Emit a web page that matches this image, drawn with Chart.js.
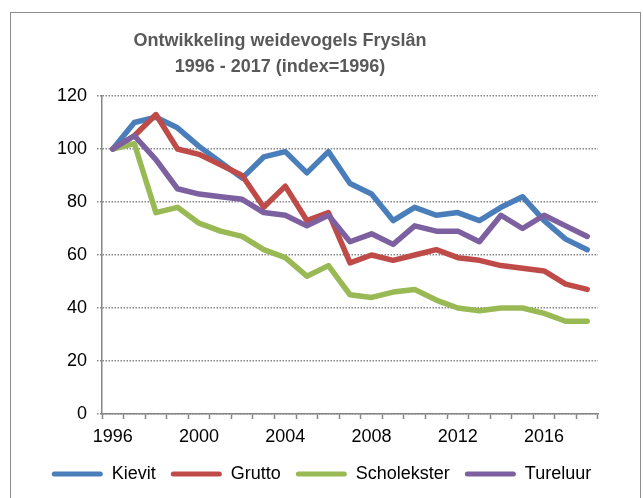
<!DOCTYPE html>
<html>

<head>
    <meta charset="utf-8">
    <title>Ontwikkeling weidevogels Fryslân</title>
    <style>
        body {
            margin: 0;
            background-color: white;
        }

        .chart-container {
            width: 643px;
            height: 498px;
            position: relative;
        }
    </style>
</head>

<body>
    <div class="chart-container"><canvas id="birdChart"></canvas></div>

    <script src="https://cdn.jsdelivr.net/npm/chart.js"></script>

    <script>
        const years = ['1996', '1997', '1998', '1999', '2000', '2001', '2002', '2003', '2004', '2005', '2006', '2007',
            '2008', '2009', '2010', '2011', '2012', '2013', '2014', '2015', '2016', '2017', '2018'];
        const kievit = [100, 110, 112, 108, 101, 95, 89, 97, 99, 91, 99, 87, 83, 73, 78, 75, 76, 73, 78, 82, 73, 66, 62];
        const grutto = [100, 105, 113, 100, 98, 94, 90, 78, 86, 73, 76, 57, 60, 58, 60, 62, 59, 58, 56, 55, 54, 49, 47];
        const scholekster = [100, 102, 76, 78, 72, 69, 67, 62, 59, 52, 56, 45, 44, 46, 47, 43, 40, 39, 40, 40, 38, 35, 35];
        const tureluur = [100, 105, 96, 85, 83, 82, 81, 76, 75, 71, 75, 65, 68, 64, 71, 69, 69, 65, 75, 70, 75, 71, 67];
        const yTicks = [0, 20, 40, 60, 80, 100, 120];
        const titleLines = ['Ontwikkeling weidevogels Fryslân', '1996 - 2017 (index=1996)'];

        const axisGrey = '#868686';
        const font = { family: '"Liberation Sans", Arial, sans-serif', size: 18 };

        function series(label, data, color, order) {
            return {
                label: label,
                data: data,
                borderColor: color,
                backgroundColor: color,
                borderWidth: 5.5,
                borderJoinStyle: 'round',
                borderCapStyle: 'round',
                pointRadius: 0,
                tension: 0,
                fill: false,
                order: order
            };
        }

        // outer frame + title, drawn like the excel chart
        const framePlugin = {
            id: 'frame',
            beforeDraw(chart) {
                const ctx = chart.ctx;
                ctx.save();
                ctx.strokeStyle = '#8c8c8c';
                ctx.lineWidth = 1;
                ctx.strokeRect(10.5, 12.5, 630, 500);
                ctx.restore();
            },
            afterDraw(chart) {
                const ctx = chart.ctx;
                ctx.save();
                ctx.fillStyle = '#595959';
                ctx.font = 'bold 18px "Liberation Sans", Arial, sans-serif';
                ctx.textAlign = 'center';
                ctx.textBaseline = 'middle';
                ctx.fillText(titleLines[0], 280, 41);
                ctx.fillText(titleLines[1], 280, 67);
                ctx.restore();
            }
        };

        new Chart(document.getElementById('birdChart'), {
            type: 'line',
            data: {
                labels: years,
                datasets: [
                    series('Kievit', kievit, '#4a7ebb', 4),
                    series('Grutto', grutto, '#be4b48', 3),
                    series('Scholekster', scholekster, '#98b954', 2),
                    series('Tureluur', tureluur, '#7d60a0', 1)
                ]
            },
            options: {
                responsive: true,
                maintainAspectRatio: false,
                animation: false,
                layout: {
                    padding: { left: 6, right: 6, top: 96, bottom: 5 }
                },
                scales: {
                    x: {
                        offset: true,
                        grid: {
                            offset: true,
                            drawOnChartArea: false,
                            drawTicks: true,
                            tickLength: 5,
                            tickColor: axisGrey,
                            tickWidth: 1.5
                        },
                        border: { color: axisGrey, width: 1.5 },
                        ticks: {
                            autoSkip: false,
                            maxRotation: 0,
                            padding: 7,
                            color: '#000',
                            font: font,
                            callback: function (value, index) {
                                return index % 4 === 0 ? years[index] : '';
                            }
                        },
                        afterFit(scale) {
                            scale.height = 36;
                        }
                    },
                    y: {
                        min: 0,
                        max: 120,
                        afterBuildTicks(scale) {
                            scale.ticks = yTicks.map(v => ({ value: v }));
                        },
                        grid: {
                            color: axisGrey,
                            lineWidth: 1.5,
                            tickLength: 5,
                            tickColor: axisGrey,
                            tickWidth: 1.5,
                            tickBorderDash: [1.5, 1.5]
                        },
                        border: { color: axisGrey, width: 1.5, dash: [1.5, 1.5] },
                        ticks: {
                            padding: 10,
                            color: '#000',
                            font: font
                        },
                        afterFit(scale) {
                            scale.width = 96;
                        }
                    },
                    // empty space on the right of the plot
                    spacer: {
                        type: 'linear',
                        position: 'right',
                        grid: { display: false },
                        border: { display: false },
                        ticks: { display: false },
                        afterFit(scale) {
                            scale.width = 39;
                        }
                    }
                },
                plugins: {
                    title: { display: false },
                    tooltip: { enabled: false },
                    legend: {
                        position: 'bottom',
                        labels: {
                            color: '#000',
                            font: font,
                            boxWidth: 51,
                            boxHeight: 5,
                            padding: 15,
                            useBorderRadius: true,
                            borderRadius: 2.5,
                            generateLabels(chart) {
                                return chart.data.datasets.map((ds, i) => ({
                                    text: ds.label,
                                    fillStyle: ds.borderColor,
                                    strokeStyle: ds.borderColor,
                                    lineWidth: 0,
                                    fontColor: '#000',
                                    hidden: false,
                                    datasetIndex: i,
                                    borderRadius: 2.5
                                }));
                            }
                        }
                    }
                }
            },
            plugins: [framePlugin]
        });
    </script>
</body>

</html>
